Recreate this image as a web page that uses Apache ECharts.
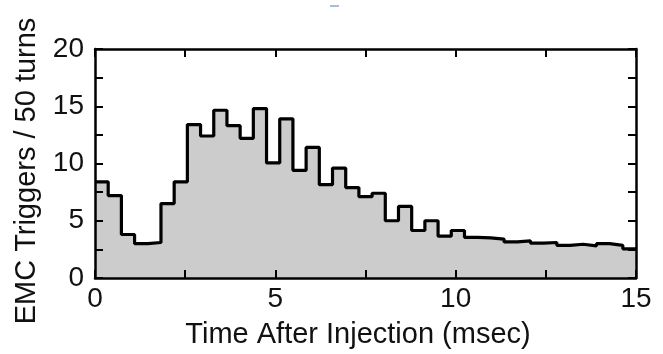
<!DOCTYPE html>
<html>
<head>
<meta charset="utf-8">
<style>
html,body{margin:0;padding:0;background:#fff;}
#chart{width:663px;height:354px;}
</style>
<script src="https://cdn.jsdelivr.net/npm/echarts@6/dist/echarts.min.js"></script>
</head>
<body>
<div id="chart"></div>
<script>
// Histogram: EMC triggers per 50 turns vs time after injection (msec)
var xMin = 0, xMax = 15;
var binCount = 41;
var counts = [8.4, 7.2, 3.8, 3.0, 3.1, 6.5, 8.4, 13.4, 12.4, 14.65, 13.3, 12.2, 14.8, 10.05,
              13.9, 9.4, 11.4, 8.15, 9.6, 7.9, 7.1, 7.4, 5.0, 6.25, 4.15, 5.0, 3.65, 4.15,
              3.55, 3.5, 3.4, 3.15, 3.25, 3.05, 3.1, 2.85, 2.95, 2.8, 3.0, 2.85, 2.55];
var xTicks = [0, 5, 10, 15];
var yTicks = [0, 5, 10, 15, 20];
var xTitle = 'Time After Injection (msec)';
var yTitle = 'EMC Triggers / 50 turns';

var binWidth = (xMax - xMin) / binCount;
var stepData = counts.map(function (v, i) { return [xMin + i * binWidth, v]; });
stepData.push([xMax, counts[counts.length - 1]]);

var font = 'Liberation Sans, Arial, Helvetica, sans-serif';
function fmt(list) {
  return function (v) { return list.indexOf(Math.round(v * 100) / 100) >= 0 ? String(v) : ''; };
}
var lineStyle = { color: '#000', width: 2.5 };
function axisBase(extra) {
  var o = {
    type: 'value', z: 10,
    axisLine: { show: true, onZero: false, lineStyle: lineStyle },
    axisTick: { show: true, inside: true, length: 8, lineStyle: { color: '#000', width: 2 } },
    splitLine: { show: false }
  };
  for (var k in extra) o[k] = extra[k];
  return o;
}

var chart = echarts.init(document.getElementById('chart'), null, { renderer: 'canvas' });
chart.setOption({
  animation: false,
  backgroundColor: '#fff',
  grid: { left: 95, right: 27, top: 49, bottom: 76, containLabel: false },
  xAxis: [
    axisBase({ min: xMin, max: xMax, interval: 2.5, position: 'bottom',
      axisLabel: { show: true, margin: 7, fontSize: 28, color: '#111', fontFamily: font, formatter: fmt(xTicks) } }),
    axisBase({ min: xMin, max: xMax, interval: 2.5, position: 'top', axisLabel: { show: false } })
  ],
  yAxis: [
    axisBase({ min: 0, max: 20, interval: 2.5, position: 'left',
      axisLabel: { show: true, margin: 11, fontSize: 28, color: '#111', fontFamily: font, formatter: fmt(yTicks) } }),
    axisBase({ min: 0, max: 20, interval: 2.5, position: 'right', axisLabel: { show: false } })
  ],
  series: [{
    type: 'line',
    xAxisIndex: 0, yAxisIndex: 0,
    step: 'end',
    data: stepData,
    showSymbol: false,
    symbol: 'none',
    clip: true,
    lineStyle: { color: '#000', width: 3.2 },
    areaStyle: { color: '#cccccc', opacity: 1, origin: 'start' },
    z: 2
  }],
  graphic: [
    { type: 'text', x: 358, y: 335, style: { text: xTitle, fontSize: 29, fontFamily: font, fill: '#111', align: 'center', verticalAlign: 'middle' } },
    { type: 'text', x: 27, y: 171, rotation: Math.PI / 2, style: { text: yTitle, fontSize: 29, fontFamily: font, fill: '#111', align: 'center', verticalAlign: 'middle' } },
    { type: 'rect', shape: { x: 330, y: 5, width: 9, height: 2 }, style: { fill: '#a9bcd9' } }
  ]
});
</script>
</body>
</html>
